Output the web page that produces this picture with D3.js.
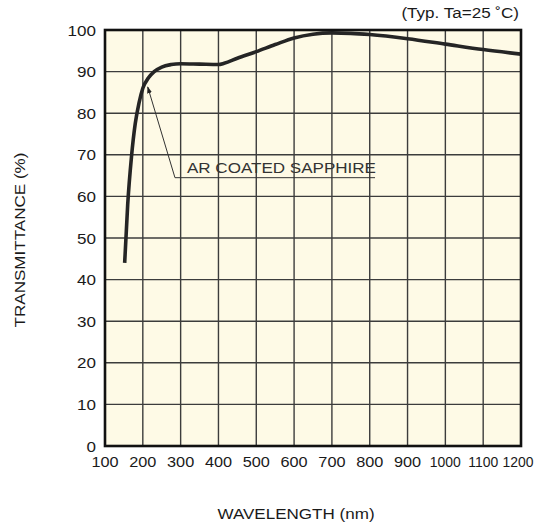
<!DOCTYPE html>
<html>
<head>
<meta charset="utf-8">
<script src="https://cdn.jsdelivr.net/npm/d3@7"></script>
<style>
  body { margin: 0; background: #fff; }
  text { font-family: "Liberation Sans", Arial, sans-serif; fill: #1a1a1a; }
</style>
</head>
<body>
<div id="chart"></div>
<script>
// wavelength (nm) vs transmittance (%)
var wavelength    = [152, 160, 170, 180, 190, 200, 215, 230, 250, 275, 300, 350, 400, 415, 450, 500, 550, 600, 650, 700, 750, 800, 900, 1000, 1100, 1200];
var transmittance = [44, 58, 69.5, 77.5, 82.5, 86, 88.5, 90, 91.1, 91.7, 91.9, 91.8, 91.7, 92, 93.2, 94.8, 96.5, 98.1, 99.0, 99.3, 99.2, 98.9, 97.9, 96.6, 95.3, 94.2];

var xTicks = [100, 200, 300, 400, 500, 600, 700, 800, 900, 1000, 1100, 1200];
var yTicks = [0, 10, 20, 30, 40, 50, 60, 70, 80, 90, 100];

var noteLabel = "AR COATED SAPPHIRE";
// annotation leader, in data units: tip on the curve, elbow, end of underline
var noteTip   = [213, 86.3];
var noteElbow = [285, 64.5];
var noteEnd   = [814, 64.5];

var conditionLabel = "(Typ. Ta=25 \u02DAC)";
var xTitle = "WAVELENGTH (nm)";
var yTitle = "TRANSMITTANCE (%)";

var W = 544, H = 527,
    margin = {top: 30, left: 105},
    width = 416, height = 416,
    fs = 15.5,
    sx = 1.1; // text is drawn a bit wide in the original

var x = d3.scaleLinear().domain([100, 1200]).range([0, width]);
var y = d3.scaleLinear().domain([0, 100]).range([height, 0]);

var svg = d3.select("#chart").append("svg")
    .attr("width", W)
    .attr("height", H);

// arrow head marker
svg.append("defs").append("marker")
    .attr("id", "arrow")
    .attr("viewBox", "0 0 10 10")
    .attr("refX", 9).attr("refY", 5)
    .attr("markerWidth", 7).attr("markerHeight", 7)
    .attr("markerUnits", "userSpaceOnUse")
    .attr("orient", "auto")
  .append("path")
    .attr("d", "M0,1.5L10,5L0,8.5z")
    .attr("fill", "#222");

var g = svg.append("g")
    .attr("transform", "translate(" + margin.left + "," + margin.top + ")");

g.append("rect")
    .attr("width", width).attr("height", height)
    .attr("fill", "#fefae6");

// grid
g.append("g").selectAll("line")
    .data(xTicks.slice(1, -1))
  .enter().append("line")
    .attr("x1", function(d) { return x(d); })
    .attr("x2", function(d) { return x(d); })
    .attr("y1", 0).attr("y2", height)
    .attr("stroke", "#3c3c3c").attr("stroke-width", 1.4);

g.append("g").selectAll("line")
    .data(yTicks.slice(1, -1))
  .enter().append("line")
    .attr("y1", function(d) { return y(d); })
    .attr("y2", function(d) { return y(d); })
    .attr("x1", 0).attr("x2", width)
    .attr("stroke", "#3c3c3c").attr("stroke-width", 1.4);

// curve
var pts = wavelength.map(function(w, i) { return [w, transmittance[i]]; });
var line = d3.line()
    .x(function(d) { return x(d[0]); })
    .y(function(d) { return y(d[1]); })
    .curve(d3.curveMonotoneX);

g.append("path")
    .datum(pts)
    .attr("d", line)
    .attr("fill", "none")
    .attr("stroke", "#252525")
    .attr("stroke-width", 3.6)
    .attr("stroke-linejoin", "round");

// annotation
g.append("path")
    .attr("d", "M" + x(noteEnd[0]) + "," + y(noteEnd[1]) +
               "L" + x(noteElbow[0]) + "," + y(noteElbow[1]) +
               "L" + x(noteTip[0]) + "," + y(noteTip[1]))
    .attr("fill", "none")
    .attr("stroke", "#333")
    .attr("stroke-width", 1)
    .attr("marker-end", "url(#arrow)");

g.append("text")
    .attr("transform", "translate(" + (x(noteElbow[0]) + 12) + "," + (y(noteElbow[1]) - 5) + ") scale(" + sx + ",1)")
    .attr("font-size", fs)
    .style("fill", "#333")
    .text(noteLabel);

// frame
g.append("rect")
    .attr("width", width).attr("height", height)
    .attr("fill", "none")
    .attr("stroke", "#111")
    .attr("stroke-width", 2.6);

// tick labels
g.append("g").selectAll("text")
    .data(yTicks)
  .enter().append("text")
    .attr("transform", function(d) { return "translate(-9," + (y(d) + 5.5) + ") scale(" + sx + ",1)"; })
    .attr("text-anchor", "middle")
    .attr("text-anchor", "end")
    .attr("font-size", fs)
    .text(function(d) { return d; });

// four-digit labels are squeezed so they fit, the last one pulled inside
g.append("g").selectAll("text")
    .data(xTicks)
  .enter().append("text")
    .attr("transform", function(d) {
        var s = d >= 1000 ? 0.9 : 1.05,
            dx = d === 1200 ? -3 : 0;
        return "translate(" + (x(d) + dx) + "," + (height + 21) + ") scale(" + s + ",1)";
    })
    .attr("text-anchor", "middle")
    .attr("font-size", fs)
    .text(function(d) { return d; });

// titles
svg.append("text")
    .attr("transform", "translate(296,519) scale(" + sx + ",1)")
    .attr("text-anchor", "middle")
    .attr("font-size", fs)
    .text(xTitle);

svg.append("text")
    .attr("transform", "translate(25,240) rotate(-90) scale(" + sx + ",1)")
    .attr("text-anchor", "middle")
    .attr("font-size", fs)
    .text(yTitle);

svg.append("text")
    .attr("transform", "translate(519,18) scale(" + sx + ",1)")
    .attr("text-anchor", "end")
    .attr("font-size", fs)
    .text(conditionLabel);
</script>
</body>
</html>
